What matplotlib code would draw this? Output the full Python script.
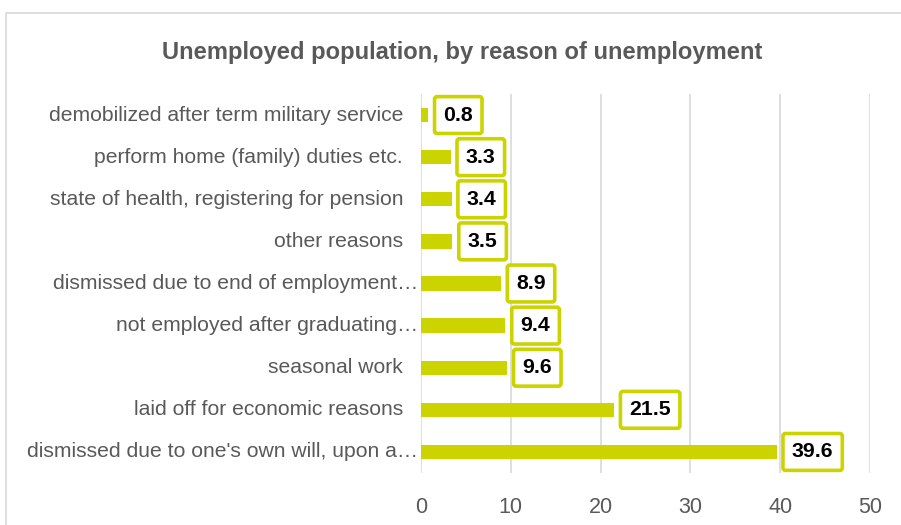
import matplotlib
matplotlib.use("Agg")
import matplotlib.pyplot as plt
from matplotlib.patches import Rectangle

categories = [
    "dismissed due to one's own will, upon a\u2026",
    "laid off for economic reasons",
    "seasonal work",
    "not employed after graduating\u2026",
    "dismissed due to end of employment\u2026",
    "other reasons",
    "state of health, registering for pension",
    "perform home (family) duties etc.",
    "demobilized after term military service",
]
values = [39.6, 21.5, 9.6, 9.4, 8.9, 3.5, 3.4, 3.3, 0.8]
xticks = [0, 10, 20, 30, 40, 50]
title = "Unemployed population, by reason of unemployment"

BAR = "#CCD400"
GRID = "#D9D9D9"
TXT = "#595959"

plt.rcParams['font.family'] = ['Liberation Sans', 'DejaVu Sans']

W, H = 901, 525
fig = plt.figure(figsize=(W / 100, H / 100), dpi=100)
fig.patch.set_facecolor("white")

# outer chart frame (left and top edges visible)
fig.patches.append(Rectangle((6 / W, -0.05), 1.2, 1 - 13 / H + 0.05,
                             transform=fig.transFigure, fill=False,
                             ec="#D9D9D9", lw=1.2))

ax = fig.add_axes([421 / W, 1 - 473 / H, (870 - 421) / W, (473 - 94) / H])
ys = list(range(len(categories)))
ax.barh(ys, values, height=0.34, color=BAR, zorder=3)
ax.set_xlim(0, 50)
ax.set_ylim(-0.5, len(categories) - 0.5)
ax.set_xticks(xticks)
ax.set_xticklabels([str(t) for t in xticks], fontsize=15.5, color=TXT)
ax.tick_params(axis="x", length=0, pad=17)
ax.set_yticks(ys)
ax.set_yticklabels([])
ax.tick_params(axis="y", length=0)
ax.grid(axis="x", color=GRID, lw=1.2, zorder=0)
for s in ax.spines.values():
    s.set_visible(False)

for y, lab in zip(ys, categories):
    off = -3 if lab.endswith("\u2026") else -18
    ax.annotate(lab, xy=(0, y), xycoords=("axes fraction", "data"),
                xytext=(off * 0.72, 0), textcoords="offset points",
                ha="right", va="center", fontsize=15.2, color=TXT)

for y, v in zip(ys, values):
    ax.annotate(f"{v}", xy=(v, y), xytext=(11, 0), textcoords="offset points",
                ha="left", va="center", fontsize=15.3, fontweight="bold",
                color="black", zorder=5,
                bbox=dict(boxstyle="round,pad=0.42,rounding_size=0.12",
                          fc="white", ec=BAR, lw=2.6))

fig.text(462 / W, 1 - 53 / H, title, ha="center", va="center",
         fontsize=17.1, fontweight="bold", color=TXT)

fig.savefig("out.png", dpi=100, facecolor="white")
